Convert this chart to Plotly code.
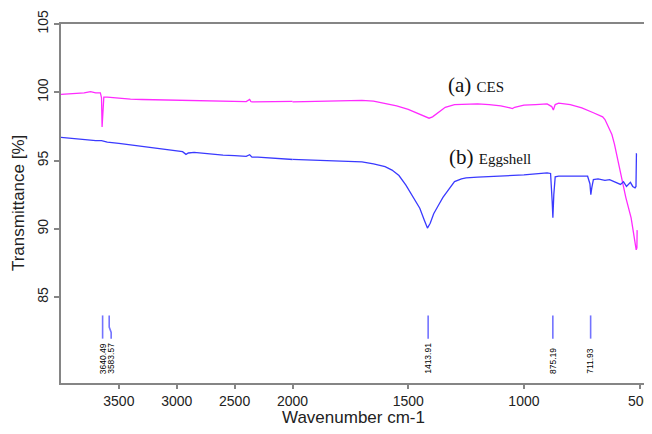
import plotly.graph_objects as go

# ---------------- data ----------------
ces_wn = [4000, 3900, 3800, 3745, 3700, 3660, 3650, 3645, 3638, 3630, 3600, 3500, 3400, 3300,
          3200, 3100, 3000, 2900, 2800, 2700, 2600, 2500, 2400, 2370, 2360, 2350, 2300, 2200,
          2100, 2000, 1900, 1800, 1700, 1650, 1600, 1550, 1500, 1450, 1420, 1410, 1395, 1370,
          1340, 1300, 1250, 1200, 1150, 1100, 1060, 1050, 1040, 1000, 950, 900, 880, 873, 865,
          850, 800, 750, 700, 660, 650, 620, 609, 595, 580, 560, 537, 525, 515, 512, 511]
ces_t = [99.85, 99.9, 99.95, 100.05, 99.95, 99.95, 99.6, 97.45, 99.2, 99.65, 99.65, 99.55, 99.5, 99.47,
         99.45, 99.42, 99.4, 99.38, 99.38, 99.36, 99.35, 99.33, 99.32, 99.48, 99.32, 99.3, 99.3, 99.32,
         99.3, 99.3, 99.35, 99.4, 99.4, 99.35, 99.2, 99.0, 98.75, 98.4, 98.15, 98.1, 98.2, 98.55,
         98.9, 99.1, 99.15, 99.15, 99.1, 99.0, 98.85, 98.8, 98.9, 99.05, 99.1, 99.15, 98.95, 98.7, 99.1,
         99.2, 99.1, 98.85, 98.5, 98.2, 98.0, 96.9, 96.2, 95.1, 93.8, 92.3, 90.8, 89.6, 88.45, 88.6, 89.9]

egg_wn = [4000, 3900, 3800, 3700, 3650, 3600, 3500, 3400, 3300, 3200, 3100, 3000, 2950, 2920,
          2900, 2850, 2800, 2700, 2600, 2500, 2400, 2370, 2360, 2350, 2300, 2200, 2100, 2000,
          1900, 1800, 1700, 1650, 1600, 1570, 1540, 1510, 1480, 1450, 1430, 1417, 1405, 1390,
          1370, 1350, 1320, 1300, 1270, 1250, 1200, 1100, 1000, 900, 885, 878, 875, 871, 865,
          850, 800, 750, 725, 715, 711, 707, 700, 680, 650, 630, 600, 583, 570, 557, 540, 530,
          520, 516, 514, 513]
egg_t = [96.7, 96.6, 96.5, 96.45, 96.45, 96.35, 96.25, 96.15, 96.05, 95.95, 95.85, 95.75, 95.65, 95.45,
         95.55, 95.6, 95.55, 95.45, 95.4, 95.35, 95.3, 95.42, 95.3, 95.25, 95.25, 95.2, 95.15, 95.1,
         95.05, 95.0, 94.9, 94.75, 94.55, 94.3, 93.9, 93.2, 92.4, 91.5, 90.6, 90.05, 90.4, 91.1,
         91.7, 92.3, 93.0, 93.45, 93.65, 93.72, 93.78, 93.85, 93.95, 94.1, 94.05, 92.0, 90.8, 92.5, 93.8,
         93.85, 93.85, 93.8, 93.85, 93.3, 92.5, 93.0, 93.6, 93.65, 93.55, 93.6, 93.35, 93.25, 93.45, 93.1, 93.4, 93.1,
         93.0, 93.1, 95.5, 95.5]

peak_wn = [3640.49, 3583.57, 1413.91, 875.19, 711.93]
peak_labels = ["3640.49", "3583.57", "1413.91", "875.19", "711.93"]

x_ticks_left = [3500, 3000, 2500, 2000]
x_ticks_right = [1500, 1000, 500]
y_ticks = [85, 90, 95, 100, 105]

# ---------------- styling ----------------
MAGENTA = "#ff2bff"
BLUE = "#3a3aff"
PEAK = "#7373ff"
AXC = "#858585"
split = 0.3964

fig = go.Figure()
for xa, ya in (("x", "y"), ("x2", "y2")):
    fig.add_trace(go.Scatter(x=ces_wn, y=ces_t, mode="lines", xaxis=xa, yaxis=ya,
                             line=dict(color=MAGENTA, width=1.3), showlegend=False, hoverinfo="skip"))
    fig.add_trace(go.Scatter(x=egg_wn, y=egg_t, mode="lines", xaxis=xa, yaxis=ya,
                             line=dict(color=BLUE, width=1.3), showlegend=False, hoverinfo="skip"))

line_top, line_bot, label_bottom = 83.65, 81.95, 79.2
for i, (wn, lab) in enumerate(zip(peak_wn, peak_labels)):
    xa, ya = ("x", "y") if wn > 2000 else ("x2", "y2")
    if i == 1:
        lx = wn - 17
        xs = [wn, wn, lx, lx]
        ys = [line_top, 82.8, 82.4, line_bot]
    else:
        lx = wn
        xs = [wn, wn]
        ys = [line_top, line_bot]
    fig.add_trace(go.Scatter(x=xs, y=ys, mode="lines", xaxis=xa, yaxis=ya,
                             line=dict(color=PEAK, width=1.6), showlegend=False, hoverinfo="skip"))
    fig.add_annotation(x=lx, y=label_bottom, xref=xa, yref=ya, text=lab, showarrow=False,
                       textangle=-90, xanchor="center", yanchor="bottom",
                       font=dict(family="Liberation Sans, Arial", size=8.5, color="#000"))

axis_common = dict(showgrid=False, zeroline=False, showline=True, linecolor=AXC, linewidth=2,
                   ticks="outside", tickcolor=AXC, tickwidth=1.5, automargin=False,
                   tickfont=dict(family="Liberation Sans, Arial", size=14, color="#222"))

# the page body adds an 8px offset; the figure is sized so the plot area lands where the reference has it
fig.update_layout(
    width=652, height=418,
    margin=dict(l=52.5, r=14.7, t=16.3, b=42.7, autoexpand=False),
    paper_bgcolor="white", plot_bgcolor="white",
    xaxis=dict(domain=[0, split], range=[4000, 2000], tickvals=x_ticks_left, mirror=True,
               anchor="y", ticklen=4, **axis_common),
    xaxis2=dict(domain=[split, 1], range=[2000, 477], tickvals=x_ticks_right, mirror=True,
                anchor="y2", ticklen=4, **axis_common),
    yaxis=dict(range=[78.7, 105], tickvals=y_ticks, tickangle=-90, anchor="x", ticklen=5,
               **axis_common),
    yaxis2=dict(range=[78.7, 105], matches="y", anchor="x2", side="right", showgrid=False,
                zeroline=False, showline=True, linecolor=AXC, linewidth=2, ticks="",
                showticklabels=False, automargin=False),
)

fig.add_annotation(xref="paper", yref="paper", x=0.5, y=-0.097, text="Wavenumber cm-1",
                   showarrow=False, xanchor="center", yanchor="middle",
                   font=dict(family="Liberation Sans, Arial", size=17, color="#222"))
fig.add_annotation(xref="paper", yref="paper", x=-0.0727, y=0.5, text="Transmittance [%]",
                   showarrow=False, textangle=-90, xanchor="center", yanchor="middle",
                   font=dict(family="Liberation Sans, Arial", size=17, color="#222"))

fig.add_annotation(xref="x2", yref="y2", x=1337, y=100.56,
                   text="(a) <span style='font-size:15px'>CES</span>", showarrow=False,
                   xanchor="left", yanchor="middle",
                   font=dict(family="Liberation Serif, Times New Roman", size=21, color="#111"))
fig.add_annotation(xref="x2", yref="y2", x=1333, y=95.26,
                   text="(b) <span style='font-size:15px'>Eggshell</span>", showarrow=False,
                   xanchor="left", yanchor="middle",
                   font=dict(family="Liberation Serif, Times New Roman", size=21, color="#111"))

fig.write_html("out.html")
